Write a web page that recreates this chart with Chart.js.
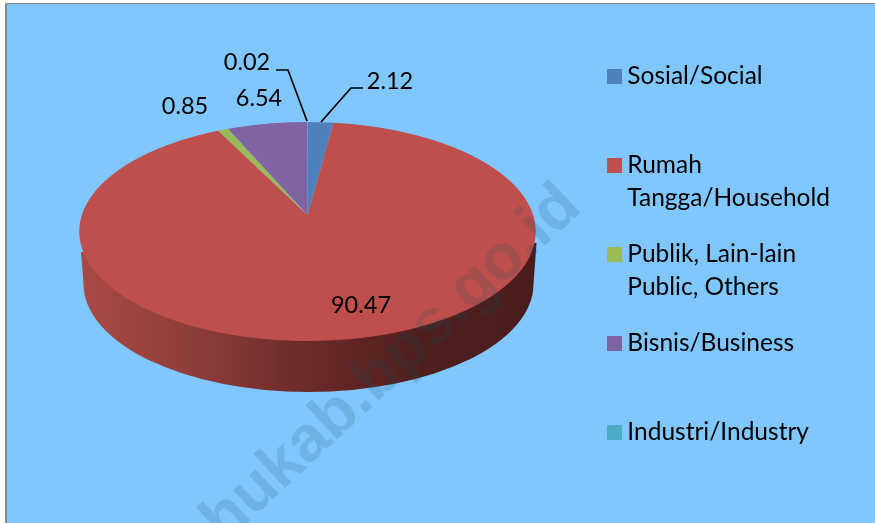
<!DOCTYPE html>
<html>
<head>
<meta charset="utf-8">
<style>html,body{margin:0;padding:0;background:#fff;overflow:hidden}#wrap{position:absolute;left:0;top:0;width:875px;height:523px}</style>
<script src="https://cdn.jsdelivr.net/npm/chart.js@4"></script>
</head>
<body>
<div id="wrap"><canvas id="c" width="875" height="523"></canvas></div>
<script>
const categories = [
  ["Sosial/Social", ""],
  ["Rumah", "Tangga/Household"],
  ["Publik, Lain-lain", "Public, Others"],
  ["Bisnis/Business", ""],
  ["Industri/Industry", ""]
];
const values = [2.12, 90.47, 0.85, 6.54, 0.02];
const colors = ["#4F81BD", "#BE4F4C", "#9BBB59", "#8064A2", "#4BACC6"];
const watermarkText = "hukab.bps.go.id";

const FONT = "Lato, Carlito, sans-serif";
const pers = {x0: 307.5, y0: 215, rx: 225.6, k: 107, c: 0.1507, top: 122, bottom: 342};

function swatch(color) {
  const s = document.createElement('canvas');
  s.width = 15; s.height = 15;
  const c = s.getContext('2d');
  c.fillStyle = color;
  c.fillRect(0, 0, 15, 15);
  return s;
}

const perspectivePie = {
  id: 'perspectivePie',
  beforeDraw(chart) {
    const ctx = chart.ctx;
    ctx.save();
    ctx.fillStyle = '#fff';
    ctx.fillRect(0, 0, 875, 523);
    ctx.fillStyle = '#80C6FF';
    ctx.fillRect(6, 3, 869, 520);
    ctx.fillStyle = '#8a8a8a';
    ctx.fillRect(5, 3, 2, 520);
    ctx.fillRect(5, 3, 870, 1);
    ctx.restore();
  },
  beforeDatasetDraw(chart, args) {
    const ctx = chart.ctx, arcs = args.meta.data;
    const R = arcs[0].outerRadius, cx = arcs[0].x, cy = arcs[0].y;
    // rim of the pie
    ctx.save();
    const g = ctx.createLinearGradient(80, 0, 537, 0);
    g.addColorStop(0, '#A84A45');
    g.addColorStop(0.25, '#8E3D39');
    g.addColorStop(0.5, '#6B2A28');
    g.addColorStop(0.75, '#4F1F1E');
    g.addColorStop(1, '#491C1C');
    ctx.fillStyle = g;
    ctx.beginPath();
    ctx.moveTo(536.5, 243);
    ctx.lineTo(533.5, 284);
    ctx.ellipse(308.5, 284, 225, 108, 0, 0, Math.PI, false);
    ctx.lineTo(81, 252);
    ctx.closePath();
    ctx.fill();
    ctx.restore();
    // top face: library arcs, drawn row by row through the perspective
    for (let row = pers.top; row < pers.bottom; row++) {
      const d = row + 0.5 - pers.y0;
      const denom = pers.k + pers.c * d;
      const v = d / denom;
      const dvdy = pers.k / (denom * denom);
      const s = 1 / (1 - pers.c * v);
      ctx.save();
      ctx.beginPath();
      ctx.rect(0, row, 875, 1);
      ctx.clip();
      const sy = 1 / (dvdy * R);
      ctx.transform(pers.rx / R * s, 0, 0, sy, pers.x0 - cx * pers.rx / R * s, row + 0.5 - (cy + v * R) * sy);
      arcs.forEach(a => a.draw(ctx));
      ctx.restore();
    }
    return false;
  },
  afterDraw(chart) {
    const ctx = chart.ctx;
    ctx.save();
    // leader lines
    ctx.strokeStyle = '#000';
    ctx.lineWidth = 1.7;
    ctx.beginPath();
    ctx.moveTo(276, 70); ctx.lineTo(288, 70); ctx.lineTo(307, 121);
    ctx.moveTo(363, 88); ctx.lineTo(351, 88); ctx.lineTo(321, 122);
    ctx.stroke();
    // data labels
    ctx.fillStyle = '#000';
    ctx.font = '23.5px ' + FONT;
    ctx.textAlign = 'center';
    ctx.textBaseline = 'middle';
    const spots = [[390, 81], [361, 305], [185, 106], [259, 98], [247, 62]];
    values.forEach((val, i) => ctx.fillText(val.toFixed(2), spots[i][0], spots[i][1]));
    // watermark
    ctx.translate(392, 364);
    ctx.rotate(-43 * Math.PI / 180);
    ctx.fillStyle = 'rgba(10,80,100,0.16)';
    ctx.font = 'bold 64px "Liberation Sans", sans-serif';
    ctx.fillText(watermarkText, 0, 0);
    ctx.restore();
  }
};

new Chart(document.getElementById('c'), {
  type: 'pie',
  data: {
    labels: categories,
    datasets: [{data: values, backgroundColor: colors, borderWidth: 0}]
  },
  options: {
    responsive: false,
    animation: false,
    layout: {padding: {top: 41, right: 35, left: 10, bottom: 0}},
    plugins: {
      tooltip: {enabled: false},
      legend: {
        position: 'right',
        align: 'start',
        labels: {
          usePointStyle: true,
          boxWidth: 1,
          boxHeight: 15,
          padding: 23,
          color: '#000',
          font: {family: FONT, size: 24.5, lineHeight: '33px'},
          generateLabels(chart) {
            return Chart.overrides.pie.plugins.legend.labels.generateLabels(chart)
              .map(item => ({...item, pointStyle: swatch(item.fillStyle)}));
          }
        }
      }
    }
  },
  plugins: [perspectivePie]
});
</script>
</body>
</html>
